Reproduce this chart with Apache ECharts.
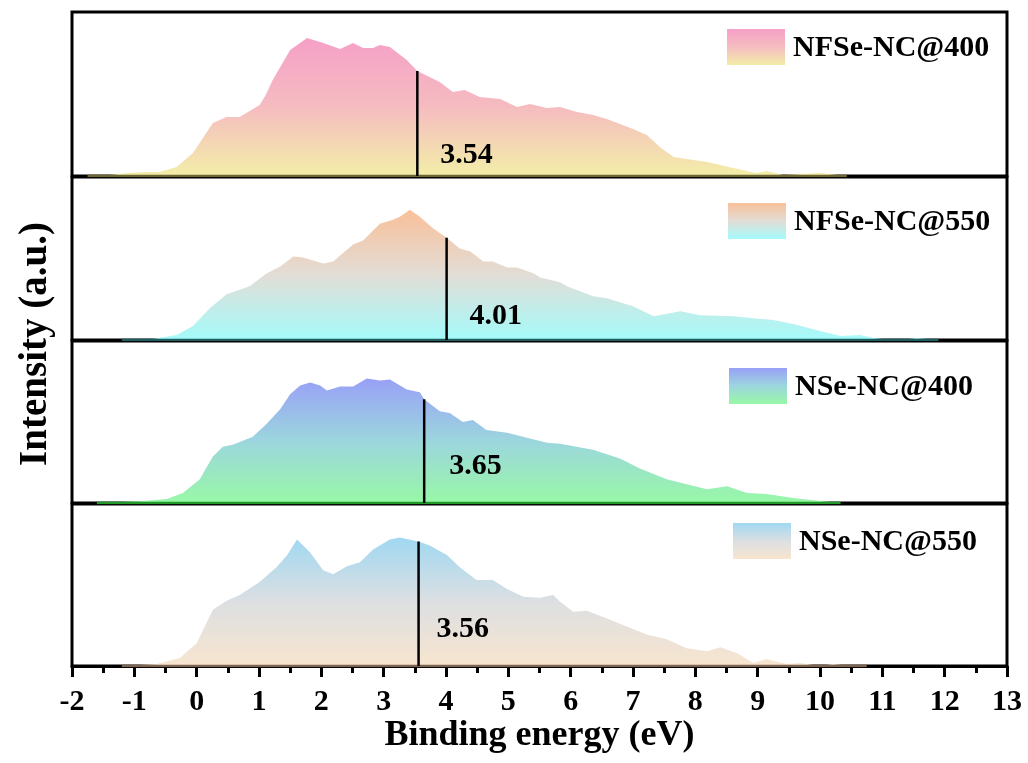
<!DOCTYPE html>
<html>
<head>
<meta charset="utf-8">
<title>Binding energy spectra</title>
<script src="https://cdn.jsdelivr.net/npm/echarts@6/dist/echarts.min.js"></script>
<style>
  html, body { margin: 0; padding: 0; background: #fff; }
  #chart { width: 1028px; height: 763px; }
</style>
</head>
<body>
<div id="chart"></div>
<script>
// Sample names, top panel to bottom panel
const sampleNames = ['NFSe-NC@400', 'NFSe-NC@550', 'NSe-NC@400', 'NSe-NC@550'];

// Binding energy (eV) and intensity (a.u.) for each sample
const energyA = [-1.75,-1.4,-1.1,-0.8,-0.6,-0.32,-0.06,0.1,0.26,0.48,0.69,1.01,1.1,1.22,1.50,1.77,2.03,2.30,2.51,2.67,2.83,2.94,3.10,3.37,3.54,3.90,4.11,4.30,4.54,4.87,5.14,5.35,5.62,5.83,6.1,6.36,6.58,7.0,7.22,7.45,7.65,7.86,8.19,8.61,8.98,9.14,9.41,10.0,10.43];
const intensityA = [0,1,3,4,4,9,23,38,53,59,59,71,80,96,126,138,133,127,133,128,128,131,129,116,105,94,84,86,79,77,69,72,68,69,64,61,57,47,41,28,19,17,14,8,3,5,1,3,0];

const energyB = [-1.2,-0.7,-0.32,-0.06,0.21,0.48,0.85,1.12,1.34,1.55,1.71,1.87,2.03,2.19,2.51,2.67,2.94,3.15,3.26,3.42,3.58,3.80,4.01,4.22,4.39,4.60,4.75,4.98,5.14,5.41,5.51,5.83,5.94,6.36,6.58,7.0,7.33,7.76,8.08,8.61,8.93,9.25,9.57,10.0,10.33,10.64,10.86,11.0,11.3,11.55,11.9];
const intensityB = [0,1,5,14,32,46,54,67,74,84,83,80,77,79,96,100,117,121,124,131,124,112,103,92,89,79,79,73,73,67,63,58,54,44,42,34,24,29,25,24,22,20,16,9,4,5,2,1,0,2,0];

const energyC = [-1.6,-0.86,-0.48,-0.22,0.05,0.26,0.42,0.58,0.90,1.12,1.34,1.50,1.66,1.82,1.98,2.09,2.30,2.51,2.73,2.94,3.10,3.37,3.58,3.65,3.90,4.06,4.27,4.43,4.65,4.98,5.30,5.62,5.83,6.36,6.79,7.11,7.54,7.86,8.19,8.51,8.83,9.14,9.57,10.0,10.33];
const intensityC = [0,2,4,10,24,47,57,59,67,80,95,110,119,122,119,114,118,118,126,124,125,115,112,105,93,91,82,84,74,71,66,61,60,54,45,35,24,19,14,17,10,9,5,2,0];

const energyD = [-1.2,-0.64,-0.27,0.0,0.26,0.48,0.69,1.01,1.28,1.45,1.61,1.82,2.03,2.19,2.41,2.62,2.83,3.10,3.26,3.56,3.74,4.02,4.22,4.49,4.75,4.98,5.24,5.51,5.72,5.83,6.04,6.26,6.58,6.90,7.22,7.54,7.86,8.19,8.40,8.67,8.93,9.14,9.46,9.68,10.0,10.2,10.5,10.75];
const intensityD = [0,2,8,23,57,66,72,85,100,112,128,115,97,93,101,105,118,128,130,126,122,112,100,87,87,78,70,69,72,65,55,56,48,40,32,27,18,15,19,13,3,7,2,3,0,2,0,0];

// Marked band-edge energies (eV) and the intensity where each marker meets the curve
const markerEnergy = [3.54, 4.01, 3.65, 3.56];
const markerIntensity = [105, 103, 105, 126];

const energies = [energyA, energyB, energyC, energyD];
const intensities = [intensityA, intensityB, intensityC, intensityD];

// Styling per panel
const topColors = ['#F6A0C7', '#F9C09A', '#98A0F6', '#A0D8F1'];
const midColors = ['#F5BCC0', '#E2DDD6', '#9CD6DE', '#DCDFE2'];
const bottomColors = ['#F3EEA8', '#A4FBFB', '#98F8A6', '#F8E5CF'];
const baseColors = ['#6f6733', '#1f5d5e', '#229a2a', '#7c6450'];
const panelTops = [12, 177, 341, 504];
const panelHeights = [164, 163, 162, 162];
const labelLift = [21, 24, 37, 37];
const labelGap = [23, 23, 25, 18];
const legendBoxes = [[727, 29], [728, 203], [729, 368], [733, 523]];

const FONT = '"Liberation Serif", "Times New Roman", serif';
const PLOT_LEFT = 72, PLOT_RIGHT = 21;
const Y_MAX = 164;

function grad(p) {
  return new echarts.graphic.LinearGradient(0, 0, 0, 1, [
    { offset: 0, color: topColors[p] },
    { offset: 0.5, color: midColors[p] },
    { offset: 1, color: bottomColors[p] }
  ]);
}

const grids = [], xAxes = [], yAxes = [], series = [], graphics = [];

for (let p = 0; p < 4; p++) {
  grids.push({
    left: PLOT_LEFT, right: PLOT_RIGHT, top: panelTops[p], height: panelHeights[p],
    show: true, borderColor: '#000', borderWidth: 3, backgroundColor: 'transparent'
  });
  const isBottom = p === 3;
  xAxes.push({
    gridIndex: p, type: 'value', min: -2, max: 13, interval: 1,
    show: isBottom,
    name: isBottom ? 'Binding energy (eV)' : '',
    nameLocation: 'middle', nameGap: 51,
    nameTextStyle: { fontFamily: FONT, fontWeight: 'bold', fontSize: 36, color: '#000' },
    axisLine: { show: true, onZero: false, lineStyle: { color: '#000', width: 3 } },
    axisTick: { show: true, inside: false, length: 11, lineStyle: { color: '#000', width: 3 } },
    minorTick: { show: true, splitNumber: 2, length: 7, lineStyle: { color: '#000', width: 3 } },
    axisLabel: { fontFamily: FONT, fontWeight: 'bold', fontSize: 30, color: '#000', margin: 21 },
    splitLine: { show: false }
  });
  yAxes.push({ gridIndex: p, type: 'value', min: 0, max: Y_MAX, show: false, splitLine: { show: false } });

  const E = energies[p], I = intensities[p];

  // Filled spectrum
  series.push({
    type: 'line', name: sampleNames[p], xAxisIndex: p, yAxisIndex: p, silent: true,
    data: E.map((e, i) => [e, I[i]]),
    showSymbol: false,
    lineStyle: { width: 0 },
    areaStyle: { color: grad(p), opacity: 1 }
  });

  // Baseline under the spectrum
  series.push({
    type: 'line', xAxisIndex: p, yAxisIndex: p, silent: true,
    data: [[E[0], 0], [E[E.length - 1], 0]],
    showSymbol: false,
    lineStyle: { color: baseColors[p], width: 2.5 }
  });

  // Vertical marker from baseline to the curve
  series.push({
    type: 'line', xAxisIndex: p, yAxisIndex: p, silent: true,
    data: [[markerEnergy[p], 0], [markerEnergy[p], markerIntensity[p]]],
    showSymbol: false,
    lineStyle: { color: '#000', width: 2.5 },
    z: 5
  });

  // Marker value text
  series.push({
    type: 'scatter', xAxisIndex: p, yAxisIndex: p, silent: true,
    data: [[markerEnergy[p], 0]],
    symbolSize: 0,
    itemStyle: { opacity: 1 },
    label: {
      show: true, position: 'right', distance: labelGap[p], offset: [0, -labelLift[p]],
      formatter: markerEnergy[p].toFixed(2), opacity: 1,
      fontFamily: FONT, fontWeight: 'bold', fontSize: 30, color: '#000'
    },
    z: 6
  });

  // Legend swatch and name
  const [lx, ly] = legendBoxes[p];
  graphics.push({
    type: 'rect', left: lx, top: ly, shape: { width: 58, height: 36 },
    style: { fill: grad(p) }, z: 10
  });
  graphics.push({
    type: 'text', left: lx + 66, top: ly + 4,
    style: { text: sampleNames[p], font: 'bold 30px ' + FONT, fill: '#000' }, z: 10
  });
}

// Vertical axis title
graphics.push({
  type: 'text', x: 36, y: 344, rotation: Math.PI / 2,
  style: {
    text: 'Intensity (a.u.)', font: 'bold 39px ' + FONT, fill: '#000',
    textAlign: 'center', textVerticalAlign: 'middle'
  }
});

const chart = echarts.init(document.getElementById('chart'), null, { renderer: 'canvas' });
chart.setOption({
  animation: false,
  backgroundColor: '#fff',
  grid: grids,
  xAxis: xAxes,
  yAxis: yAxes,
  series: series,
  graphic: graphics
});
</script>
</body>
</html>
